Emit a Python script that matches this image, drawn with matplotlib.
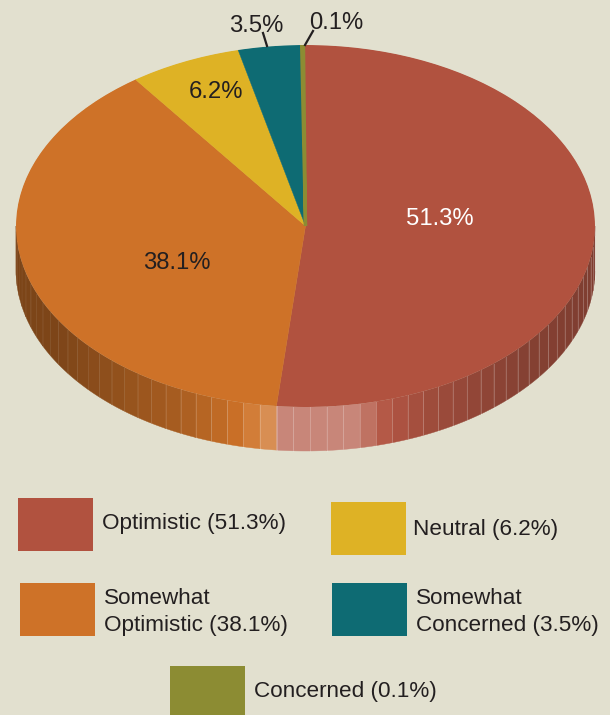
import numpy as np
import matplotlib
matplotlib.use('Agg')
import matplotlib.pyplot as plt
from matplotlib.patches import Polygon, Rectangle, Ellipse

plt.rcParams['font.family'] = ['Liberation Sans', 'DejaVu Sans']

# data
names = ['Optimistic', 'Somewhat\nOptimistic', 'Concerned', 'Somewhat\nConcerned', 'Neutral']
slices = ['Optimistic', 'Somewhat\nOptimistic', 'Neutral', 'Somewhat\nConcerned', 'Concerned']
values = [51.3, 38.1, 6.2, 3.5, 0.1]
colors = ['#B1523F', '#CE7228', '#DEB225', '#0E6B73', '#8C8C33']

bg = '#E2E0CF'
dark = '#231F20'

# pie geometry, in picture pixels
cx, cy = 305.5, 226
rx, ry = 289.5, 181
depth = 44
start = -0.4
step = 3.3

fig = plt.figure(figsize=(6.1, 7.15), dpi=100, facecolor=bg)
ax = fig.add_axes([0, 0, 1, 1])
ax.set_xlim(0, 610)
ax.set_ylim(715, 0)
ax.axis('off')


def rim(a):
    # a in degrees, clockwise from the top
    a = np.radians(a)
    return cx + rx*np.sin(a), cy - ry*np.cos(a)


def side_color(col, t):
    # light in the middle, dark towards the edges
    rgb = np.array(matplotlib.colors.to_rgb(col))
    f = np.interp(t, [-1, -0.85, -0.43, -0.21, 0.28, 0.43, 0.75, 1],
                  [0.6, 0.61, 0.82, 1, 1, 0.88, 0.74, 0.7])
    h = np.interp(t, [-0.22, -0.12, -0.08, 0.17, 0.28], [0, 0.22, 0.3, 0.3, 0.02])
    rgb = rgb*f
    return rgb + (1-rgb)*h


angles = np.cumsum([0] + values) / sum(values) * 360 + start

# side of the pie, only the front half shows
for val, col, a0, a1 in zip(values, colors, angles[:-1], angles[1:]):
    lo, hi = max(a0, 90), min(a1, 270)
    if lo >= hi:
        continue
    edges = np.append(np.arange(lo, hi, step), hi)
    for e0, e1 in zip(edges[:-1], edges[1:]):
        aa = np.linspace(e0, e1, 6)
        x, y = rim(aa)
        pts = np.r_[np.c_[x, y], np.c_[x, y+depth][::-1]]
        t = (x.mean()-cx)/rx
        c = side_color(col, t)
        ax.add_patch(Polygon(pts, closed=True, fc=c, ec=c, lw=0.3, zorder=2))
        # seams fade out on the dark left side
        alpha = np.interp(t, [-1, -0.6, -0.3, 1], [0.03, 0.07, 0.22, 0.22])
        ax.plot([x[0], x[0]], [y[0], y[0]+depth], color='white', alpha=alpha, lw=0.7, zorder=3)

# top of the pie
clip = Ellipse((cx, cy), 2*rx, 2*ry, transform=ax.transData, fc='none', ec='none')
ax.add_patch(clip)
for i, (val, col, a0, a1) in enumerate(zip(values, colors, angles[:-1], angles[1:])):
    x, y = rim(np.linspace(a0, a1, 200))
    pts = np.r_[[[cx, cy]], np.c_[x, y]]
    # the smallest slice gets an outline or it would hardly show
    lw = 2.4 if val < 1 else 0.3
    p = Polygon(pts, closed=True, fc=col, ec=col, lw=lw, zorder=4+i*0.1)
    ax.add_patch(p)
    p.set_clip_path(clip)

# value labels
label_pos = [(440, 219), (177, 263), (216, 92), (256, 26), (336, 23)]
label_col = ['white', dark, dark, dark, dark]
for val, (x, y), c in zip(values, label_pos, label_col):
    ax.text(x, y, f'{val}%', color=c, fontsize=17.2, ha='center', va='center', zorder=6)

ax.plot([263, 267], [33, 46], color=dark, lw=1.6, zorder=6)
ax.plot([313, 305], [31, 45], color=dark, lw=1.6, zorder=6)

# legend
box_pos = [(18, 498), (20, 583), (170, 666), (332, 583), (331, 502)]
text_pos = [(102, 524), (104, 612), (254, 692), (416, 612), (413, 530)]
for name, (bx, by), (tx, ty) in zip(names, box_pos, text_pos):
    i = slices.index(name)
    ax.add_patch(Rectangle((bx, by), 75, 53, fc=colors[i], ec='none', zorder=2))
    ax.text(tx, ty, f'{name} ({values[i]}%)', color=dark, fontsize=16.2, ha='left', va='center',
            linespacing=1.34)

fig.savefig('out.png', dpi=100, facecolor=bg)
